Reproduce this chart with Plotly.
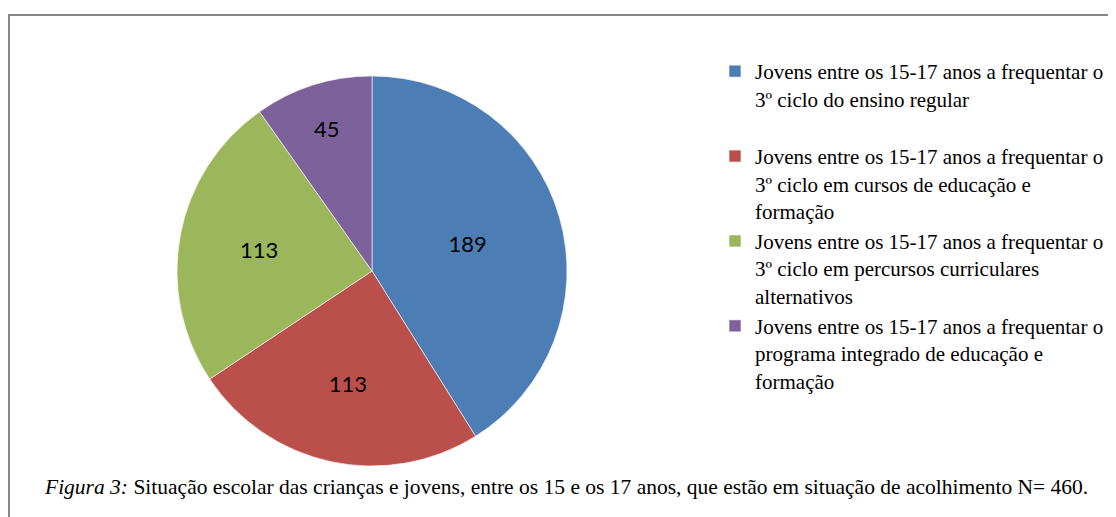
import plotly.graph_objects as go

# data
categories = [
    "Jovens entre os 15-17 anos a frequentar o<br>3º ciclo do ensino regular<br> ",
    "Jovens entre os 15-17 anos a frequentar o<br>3º ciclo em cursos de educação e<br>formação",
    "Jovens entre os 15-17 anos a frequentar o<br>3º ciclo em percursos curriculares<br>alternativos",
    "Jovens entre os 15-17 anos a frequentar o<br>programa integrado de educação e<br>formação",
]
values = [189, 113, 113, 45]
colors = ["#4D7DB5", "#BA504C", "#9BB65B", "#7D619B"]

caption = ("<i>Figura 3:</i> Situação escolar das crianças e jovens, entre os 15 e os 17 anos, "
           "que estão em situação de acolhimento N= 460.")

W, H = 1116, 517
OFF = 8  # page body margin

cx, cy, r = 372 - OFF, 271 - OFF, 195

fig = go.Figure(go.Pie(
    labels=categories, values=values,
    sort=False, direction="clockwise", rotation=0,
    marker=dict(colors=colors, line=dict(color="rgba(255,255,255,0.6)", width=1)),
    textinfo="value", textposition="inside", insidetextorientation="horizontal",
    textfont=dict(family="Lato, Open Sans, sans-serif", size=22, color="black"),
    domain=dict(x=[(cx - r) / W, (cx + r) / W], y=[(H - cy - r) / H, (H - cy + r) / H]),
    hoverinfo="label+value",
))

serif = "Liberation Serif, Times New Roman, serif"

fig.update_layout(
    width=W, height=H,
    margin=dict(l=0, r=0, t=0, b=0),
    paper_bgcolor="white", plot_bgcolor="white",
    showlegend=True,
    legend=dict(
        x=(757 - 42 - OFF) / W, y=1 - (51 - OFF) / H, xanchor="left", yanchor="top",
        font=dict(family=serif, size=21, color="black"),
        itemwidth=30, traceorder="normal", valign="top",
    ),
    font=dict(family=serif),
    shapes=[dict(type="rect", xref="paper", yref="paper",
                 x0=(9 - OFF) / W, x1=1.05, y0=-0.05, y1=1 - (15 - OFF) / H,
                 line=dict(color="#888888", width=2))],
    annotations=[dict(text=caption, xref="paper", yref="paper",
                      x=(42 - OFF) / W, y=1 - (487 - OFF) / H, xanchor="left", yanchor="middle",
                      showarrow=False,
                      font=dict(family=serif, size=21.5, color="black"))],
)

fig.write_html("out.html")
